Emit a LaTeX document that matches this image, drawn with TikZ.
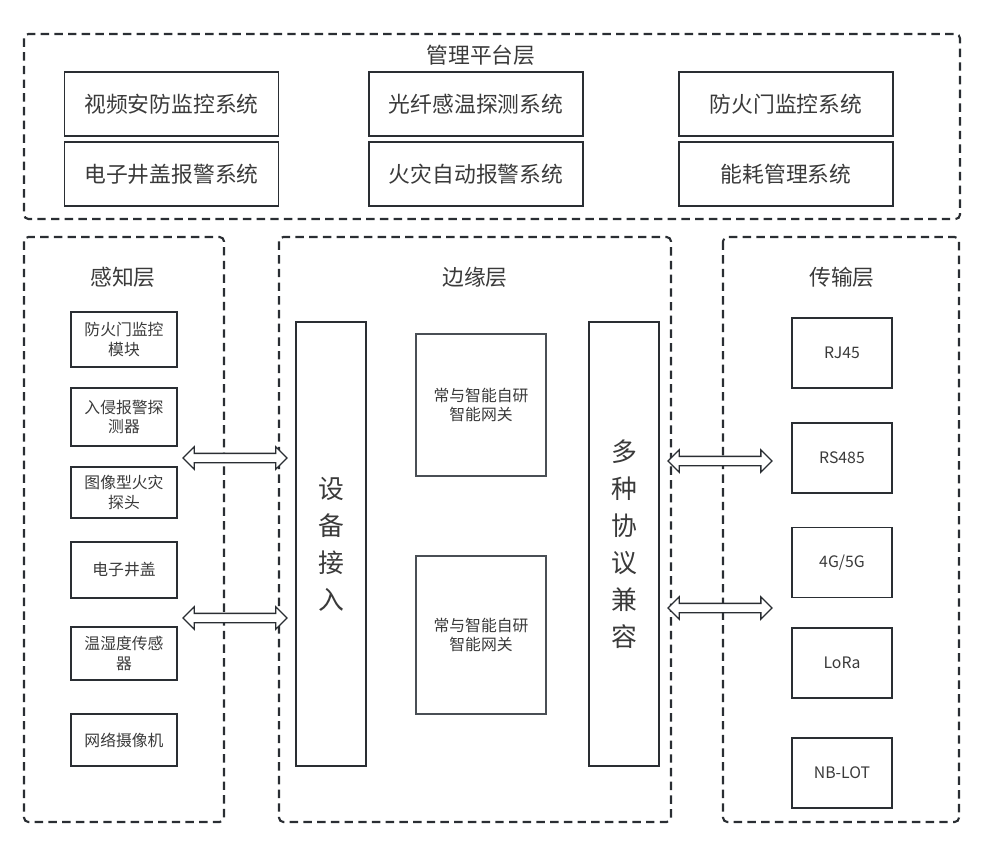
\documentclass[tikz,border=0pt]{standalone}
\usepackage{fontspec}
\setmainfont{Noto Sans CJK SC}
\usetikzlibrary{shapes.arrows}

\definecolor{linec}{HTML}{2A2E33}
\definecolor{gatec}{HTML}{4A4F55}
\definecolor{textc}{HTML}{3A3A3A}

\tikzset{
  layerbox/.style={draw=linec, line width=1.2pt, dash pattern=on 4.8pt off 3pt, rounded corners=2.5pt},
  layertitle/.style={text=textc, font=\fontsize{12.4}{15}\selectfont, inner sep=0pt},
  sysbox/.style={draw=linec, line width=1.1pt, text=textc, font=\fontsize{12.4}{15}\selectfont,
    minimum width=4.28cm, minimum height=1.28cm, inner sep=0pt},
  devbox/.style={draw=linec, line width=1.1pt, text=textc, font=\fontsize{9}{11}\selectfont,
    align=center, minimum width=2.12cm, inner sep=0pt},
  netbox/.style={draw=linec, line width=1.1pt, text=textc, font=\fontsize{9}{11}\selectfont,
    minimum width=2cm, minimum height=1.4cm, inner sep=0pt},
  tallbox/.style={draw=linec, line width=1.1pt, text=textc, font=\fontsize{14.7}{21}\selectfont,
    align=center, minimum width=1.4cm, minimum height=8.88cm, inner sep=0pt},
  gatebox/.style={draw=gatec, line width=1pt, text=textc, font=\fontsize{9}{11.3}\selectfont,
    align=center, minimum width=2.6cm, inner sep=0pt},
  linkarrow/.style={double arrow, draw=linec, fill=white, line width=0.75pt,
    minimum height=2.08cm, minimum width=0.42cm, double arrow head extend=0.13cm,
    inner xsep=0pt, inner ysep=0.08cm}
}

\begin{document}
\begin{tikzpicture}[x=0.02cm, y=-0.02cm]
  \useasboundingbox (0,0) rectangle (986,846);

  % 管理平台层
  \draw[layerbox] (24,34) rectangle (960,219);
  \node[layertitle] (platT) at (481,55) {管理平台层};
  \node[sysbox] (sysA) at (171.5,104) {视频安防监控系统};
  \node[sysbox] (sysB) at (171.5,174) {电子井盖报警系统};
  \node[sysbox] (sysC) at (476,104) {光纤感温探测系统};
  \node[sysbox] (sysD) at (476,174) {火灾自动报警系统};
  \node[sysbox] (sysE) at (786,104) {防火门监控系统};
  \node[sysbox] (sysF) at (786,174) {能耗管理系统};

  % 感知层
  \draw[layerbox] (24,237) rectangle (224,822);
  \node[layertitle] (senseT) at (123,277) {感知层};
  \node[devbox, minimum height=1.10cm] (devA) at (124,339.5) {防火门监控\\模块};
  \node[devbox, minimum height=1.16cm] (devB) at (124,417) {入侵报警探\\测器};
  \node[devbox, minimum height=1.02cm] (devC) at (124,492.5) {图像型火灾\\探头};
  \node[devbox, minimum height=1.12cm] (devD) at (124,570) {电子井盖};
  \node[devbox, minimum height=1.06cm] (devE) at (124,653.5) {温湿度传感\\器};
  \node[devbox, minimum height=1.04cm] (devF) at (124,740) {网络摄像机};

  % 边缘层
  \draw[layerbox] (279,237) rectangle (671,822);
  \node[layertitle] (edgeT) at (475,277) {边缘层};
  \node[tallbox] (access) at (331,544) {设\\备\\接\\入};
  \node[tallbox] (proto) at (624,544) {多\\种\\协\\议\\兼\\容};
  \node[gatebox, minimum height=2.84cm] (gateA) at (481,405) {常与智能自研\\智能网关};
  \node[gatebox, minimum height=3.16cm] (gateB) at (481,635) {常与智能自研\\智能网关};

  % 传输层
  \draw[layerbox] (723,237) rectangle (959,822);
  \node[layertitle] (transT) at (842,277) {传输层};
  \node[netbox] (netA) at (842,353) {RJ45};
  \node[netbox] (netB) at (842,458) {RS485};
  \node[netbox] (netC) at (842,562.5) {4G/5G};
  \node[netbox] (netD) at (842,663) {LoRa};
  \node[netbox] (netE) at (842,773) {NB-LOT};

  % 双向箭头
  \node[linkarrow] (linkA) at (235,458) {};
  \node[linkarrow] (linkB) at (235,618) {};
  \node[linkarrow] (linkC) at (720,461) {};
  \node[linkarrow] (linkD) at (720,608) {};
\end{tikzpicture}
\end{document}
